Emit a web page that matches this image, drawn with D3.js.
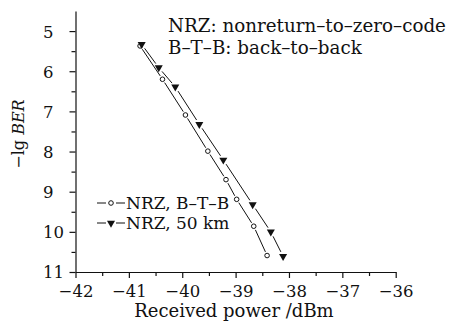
<!DOCTYPE html>
<html lang="en">
<head>
<meta charset="utf-8">
<title>BER vs received power</title>
<script src="https://d3js.org/d3.v7.min.js"></script>
<style>
    body { margin: 0; background: #fff; }
    svg text { font-family: "DejaVu Serif", "Liberation Serif", serif; fill: #111; }
    .axis path, .axis line { stroke: #111; stroke-width: 1.2px; }
    .seg { stroke: #111; stroke-width: 1px; fill: none; }
</style>
</head>
<body>
<svg width="449" height="325"></svg>
<script>
    // values
    var btbPower = [-40.79, -40.37, -39.94, -39.52, -39.18, -38.98, -38.66, -38.41];
    var btbBer   = [5.37, 6.20, 7.09, 7.99, 8.70, 9.19, 9.86, 10.59];
    var kmPower  = [-40.76, -40.44, -40.13, -39.68, -39.23, -38.68, -38.34, -38.11];
    var kmBer    = [5.33, 5.91, 6.39, 7.32, 8.21, 9.32, 10.00, 10.61];
    var xTicks = [-42, -41, -40, -39, -38, -37, -36];
    var yTicks = [5, 6, 7, 8, 9, 10, 11];
    var legendLabels = ["NRZ, B\u2013T\u2013B", "NRZ, 50 km"];
    var notes = ["NRZ: nonreturn\u2013to\u2013zero\u2013code", "B\u2013T\u2013B: back\u2013to\u2013back"];

    var svg = d3.select("svg"),
        margin = {top: 11, left: 75.5},
        width = 320.2,
        height = 261,
        g = svg.append("g").attr("transform", "translate(" + margin.left + "," + margin.top + ")");

    var x = d3.scaleLinear().domain([-42, -36]).range([0, width]),
        y = d3.scaleLinear().domain([4.5, 11]).range([0, height]);

    var fmt = function(d) { return d3.format("d")(d).replace("-", "\u2212"); };

    // minor ticks
    g.append("g").attr("class", "axis")
        .attr("transform", "translate(0," + height + ")")
        .call(d3.axisBottom(x).tickValues(d3.range(-41.5, -36, 1)).tickSize(4).tickFormat(""))
        .select(".domain").remove();
    g.append("g").attr("class", "axis")
        .call(d3.axisLeft(y).tickValues(d3.range(5.5, 11, 1)).tickSize(4).tickFormat(""))
        .select(".domain").remove();

    var xAxis = g.append("g").attr("class", "axis")
        .attr("transform", "translate(0," + height + ")")
        .call(d3.axisBottom(x).tickValues(xTicks).tickSize(6).tickSizeOuter(0).tickFormat(fmt));
    xAxis.selectAll("text").attr("dy", null).attr("y", 25).style("font-size", "16.5px");

    var yAxis = g.append("g").attr("class", "axis")
        .call(d3.axisLeft(y).tickValues(yTicks).tickSize(6).tickSizeOuter(0).tickFormat(fmt));
    yAxis.selectAll("text")
        .attr("text-anchor", "start")
        .attr("x", 43 - margin.left)
        .attr("dy", "0.36em")
        .style("font-size", "16.5px");

    svg.append("text")
        .attr("x", 234).attr("y", 317)
        .attr("text-anchor", "middle")
        .style("font-size", "18px")
        .text("Received power /dBm");

    var ylab = svg.append("text")
        .attr("transform", "translate(24,134) rotate(-90)")
        .attr("text-anchor", "middle")
        .style("font-size", "16px");
    ylab.append("tspan").text("\u2212lg ");
    ylab.append("tspan").style("font-style", "italic").text("BER");

    // series
    function points(px, py) {
        return px.map(function(p, i) { return {x: x(p), y: y(py[i])}; });
    }
    var btb = points(btbPower, btbBer), km = points(kmPower, kmBer);

    function drawGapLine(pts, gap) {
        for (var i = 0; i < pts.length - 1; i++) {
            var a = pts[i], b = pts[i + 1];
            var dx = b.x - a.x, dy = b.y - a.y, len = Math.sqrt(dx * dx + dy * dy);
            var ux = dx / len, uy = dy / len;
            g.append("line").attr("class", "seg")
                .attr("x1", a.x + ux * gap).attr("y1", a.y + uy * gap)
                .attr("x2", b.x - ux * gap).attr("y2", b.y - uy * gap);
        }
    }
    drawGapLine(btb, 4);
    drawGapLine(km, 5);

    var tri = d3.symbol().type(d3.symbolTriangle).size(28);

    g.selectAll(".circ").data(btb).enter().append("circle")
        .attr("cx", function(d) { return d.x; })
        .attr("cy", function(d) { return d.y; })
        .attr("r", 2.3)
        .attr("fill", "#fff").attr("stroke", "#111").attr("stroke-width", 1);

    g.selectAll(".tri").data(km).enter().append("path")
        .attr("d", tri)
        .attr("transform", function(d) { return "translate(" + d.x + "," + d.y + ") rotate(180)"; })
        .attr("fill", "#111");

    // legend
    var legend = svg.append("g").attr("transform", "translate(97,203)");
    legendLabels.forEach(function(lab, i) {
        var row = legend.append("g").attr("transform", "translate(0," + (i * 20) + ")");
        row.append("line").attr("class", "seg").attr("x1", 0).attr("x2", 9).attr("y1", 0).attr("y2", 0);
        row.append("line").attr("class", "seg").attr("x1", 19).attr("x2", 28).attr("y1", 0).attr("y2", 0);
        if (i === 0) {
            row.append("circle").attr("cx", 14).attr("cy", 0).attr("r", 2.3)
                .attr("fill", "#fff").attr("stroke", "#111");
        } else {
            row.append("path").attr("d", tri).attr("transform", "translate(14,0) rotate(180)").attr("fill", "#111");
        }
        row.append("text").attr("x", 29).attr("dy", "0.36em")
            .style("font-size", "17px").text(lab);
    });

    // notes
    notes.forEach(function(t, i) {
        svg.append("text").attr("x", 168).attr("y", 32 + i * 21.5)
            .style("font-size", "18.3px").text(t);
    });
</script>
</body>
</html>
